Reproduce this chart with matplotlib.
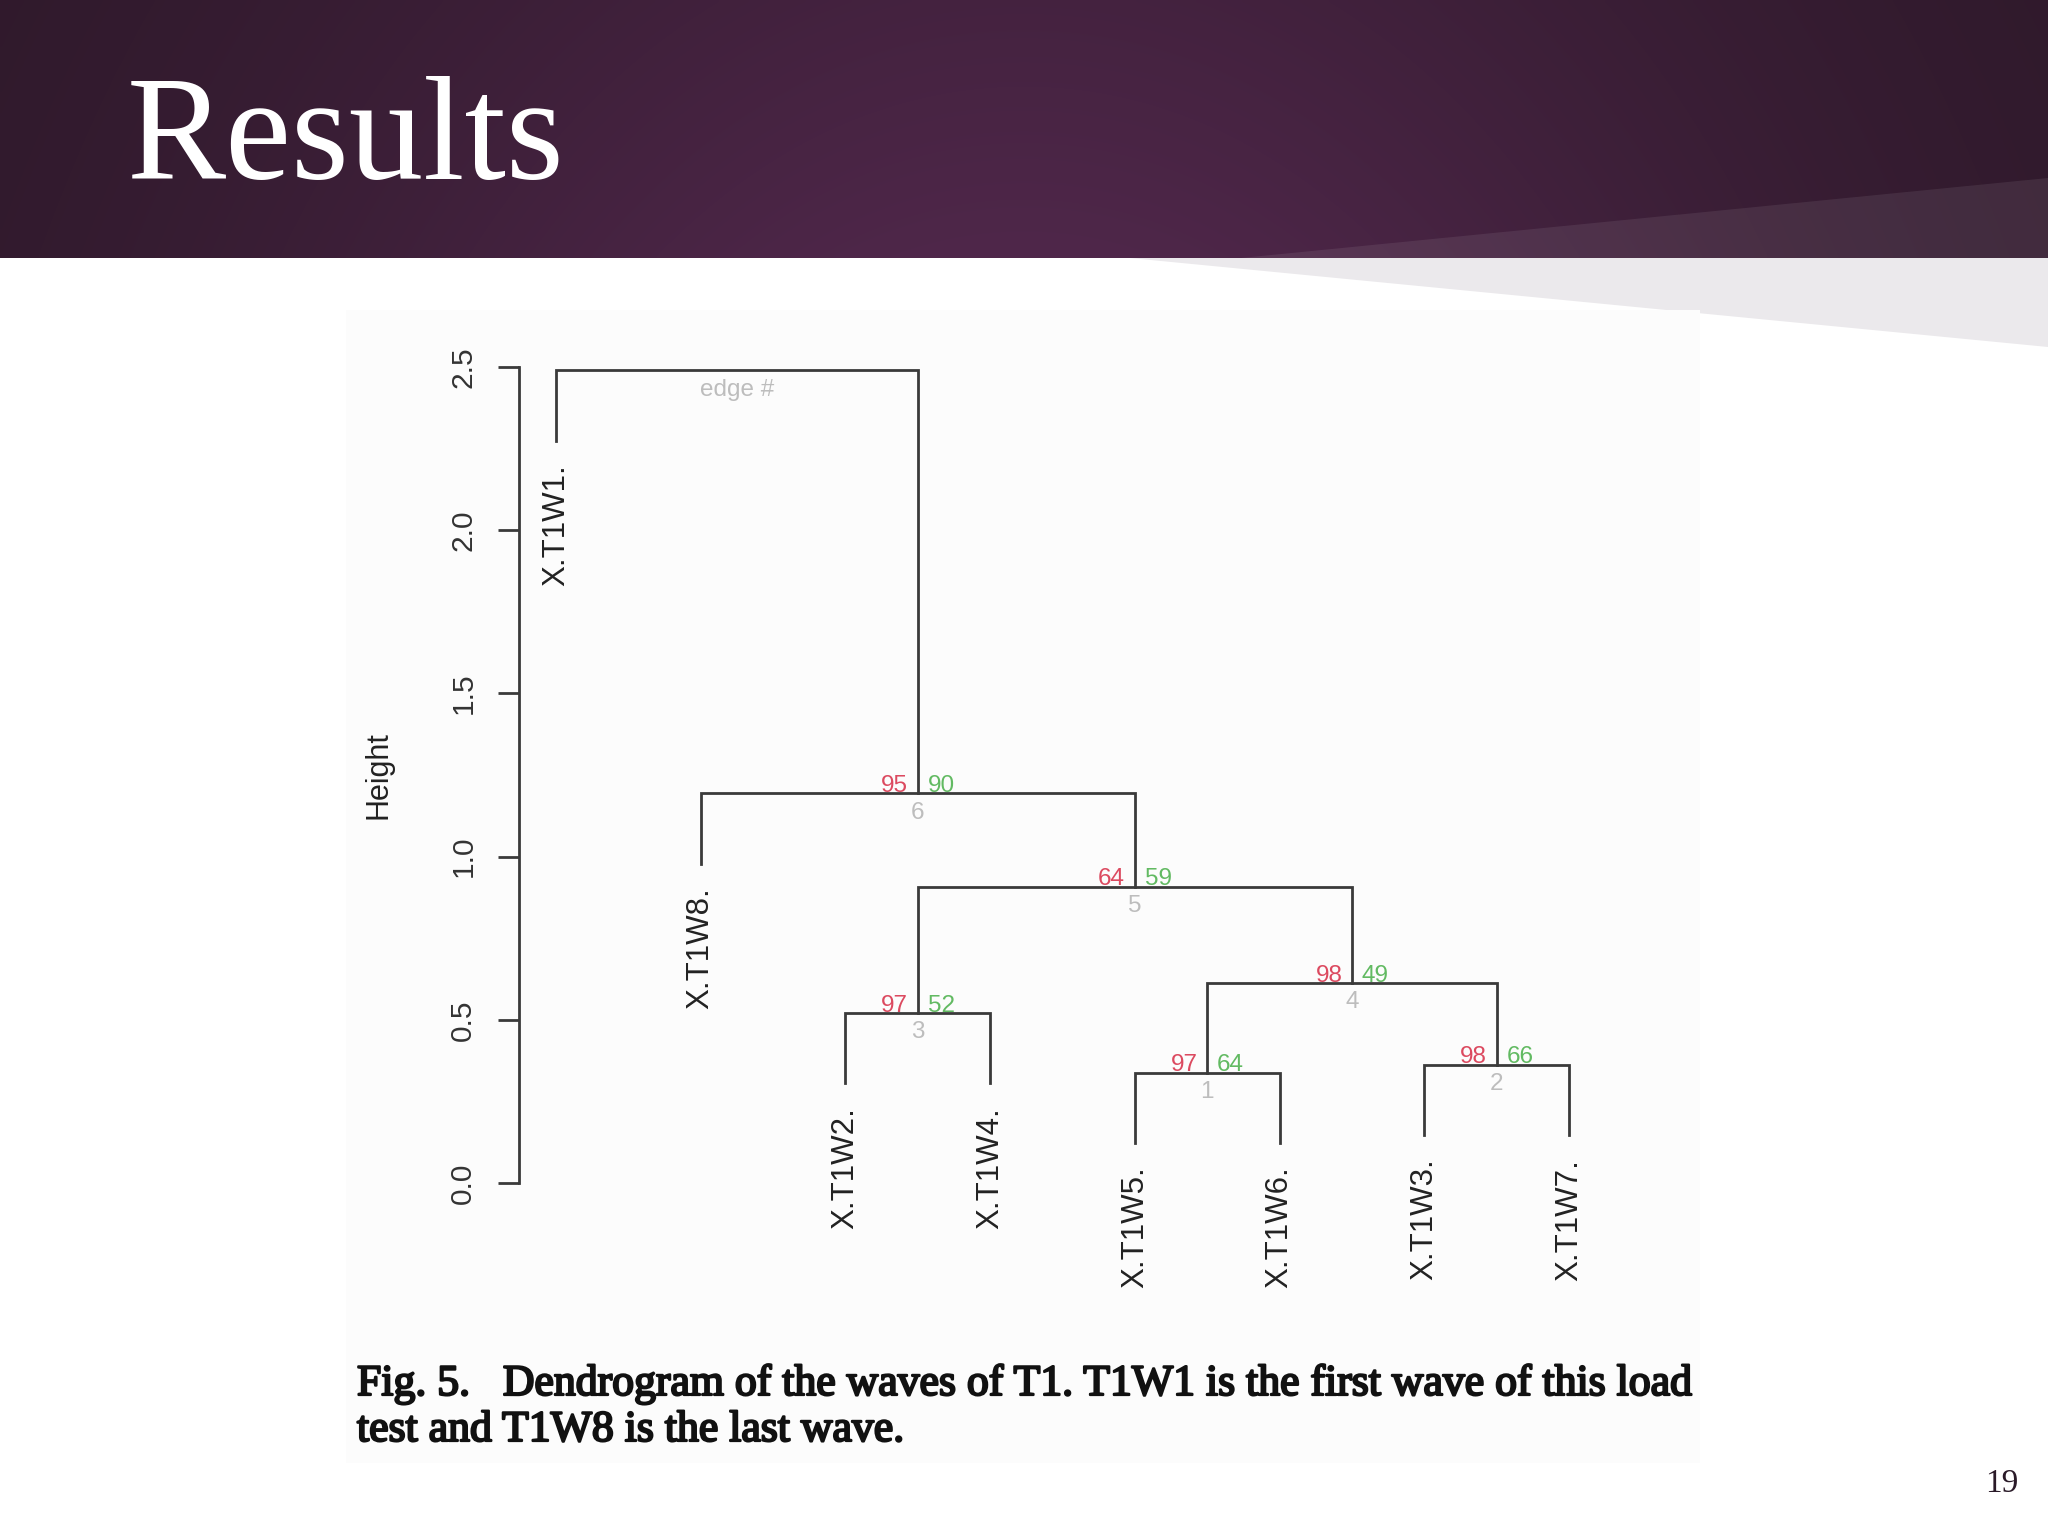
import matplotlib
matplotlib.use("Agg")
import matplotlib.pyplot as plt
import matplotlib.patheffects as pe
import numpy as np
from matplotlib.patches import Polygon, Rectangle

# Dendrogramme (format hclust de R : feuilles négatives, clusters positifs)
labels = ["X.T1W1.", "X.T1W2.", "X.T1W3.", "X.T1W4.",
          "X.T1W5.", "X.T1W6.", "X.T1W7.", "X.T1W8."]
order = [1, 8, 2, 4, 5, 6, 3, 7]
merge = [(-5, -6), (-3, -7), (-2, -4), (1, 2), (3, 4), (-8, 5), (-1, 6)]
heights = [0.338, 0.362, 0.521, 0.613, 0.908, 1.194, 2.49]
au = [97, 98, 97, 98, 64, 95]
bp = [64, 66, 52, 49, 59, 90]
yticks = [0.0, 0.5, 1.0, 1.5, 2.0, 2.5]

title = "Results"
caption = ["Fig. 5.   Dendrogram of the waves of T1. T1W1 is the first wave of this load",
           "test and T1W8 is the last wave."]
page = "19"

LINE = "#3a3a3a"
RED = "#dc4a60"
GREEN = "#62ba62"
GREY = "#bdbdbd"
SANS = "Liberation Sans"
SERIF = "Liberation Serif"

fig = plt.figure(figsize=(20.48, 15.36), dpi=100)

# --- fond de la diapo (coordonnées pixels) ---
bg = fig.add_axes([0, 0, 1, 1])
xx, yy = np.meshgrid(np.linspace(0, 1, 512), np.linspace(0, 1, 64))
t = np.exp(-((xx - 0.5) / 0.38) ** 2) * (0.7 + 0.3 * yy)
dark = np.array([0x2c, 0x18, 0x28]) / 255
light = np.array([0x4f, 0x27, 0x4a]) / 255
bg.imshow(dark + (light - dark) * t[..., None], extent=(0, 2048, 258, 0),
          aspect="auto", interpolation="bilinear")
bg.add_patch(Polygon([(1241, 258), (2048, 178), (2048, 258)], closed=True,
                     facecolor="white", alpha=0.08, lw=0))
bg.add_patch(Polygon([(1130, 258), (2048, 258), (2048, 347)], closed=True,
                     facecolor="#ebe9ec", lw=0))
bg.add_patch(Rectangle((346, 310), 1700 - 346, 1463 - 310, facecolor="#fcfcfc", lw=0))
bg.set_xlim(0, 2048)
bg.set_ylim(1536, 0)
bg.axis("off")

bg.text(127, 179, title, color="white", fontsize=107, family=SERIF, va="baseline")
stroke = [pe.withStroke(linewidth=1.6, foreground="#111111")]
for i, line in enumerate(caption):
    bg.text(357, 1395 + 46 * i, line, fontsize=31.5, family=SERIF, color="#111111",
            va="baseline", path_effects=stroke)
bg.text(2018, 1492, page, ha="right", va="baseline", fontsize=24, family=SERIF,
        color="#2a1a28")

# --- dendrogramme ---
ax = fig.add_axes([519 / 2048, 353 / 1536, (1620 - 519) / 2048, 816 / 1536])
ax.patch.set_alpha(0)
ax.set_xlim(0.744, 8.352)
ax.set_ylim(0, 2.5)

pos = {leaf: i + 1 for i, leaf in enumerate(order)}
hang = 0.1 * (max(heights) - min(heights))
node_x = {}
for k, (a, b) in enumerate(merge, start=1):
    h = heights[k - 1]
    xs, ys = [], []
    for c in (a, b):
        if c < 0:
            x, y0 = pos[-c], h - hang
            ax.annotate(labels[-c - 1], xy=(x, y0), xytext=(0, -17),
                        textcoords="offset points", rotation=90,
                        rotation_mode="anchor", ha="right", va="center",
                        fontsize=22.5, family=SANS, color="#222222",
                        annotation_clip=False)
        else:
            x, y0 = node_x[c], heights[c - 1]
        xs.append(x)
        ys.append(y0)
    ax.plot([xs[0], xs[0], xs[1], xs[1]], [ys[0], h, h, ys[1]],
            color=LINE, lw=2.0, solid_joinstyle="miter", clip_on=False)
    node_x[k] = (xs[0] + xs[1]) / 2

for k in range(1, len(au) + 1):
    x, h = node_x[k], heights[k - 1]
    ax.annotate(str(au[k - 1]), xy=(x, h), xytext=(-7, 1), textcoords="offset points",
                ha="right", va="baseline", fontsize=17.5, family=SANS, color=RED)
    ax.annotate(str(bp[k - 1]), xy=(x, h), xytext=(7, 1), textcoords="offset points",
                ha="left", va="baseline", fontsize=17.5, family=SANS, color=GREEN)
    ax.annotate(str(k), xy=(x, h), xytext=(0, -6), textcoords="offset points",
                ha="center", va="top", fontsize=17.5, family=SANS, color=GREY)
ax.annotate("edge #", xy=(node_x[len(merge)], heights[-1]), xytext=(0, -6),
            textcoords="offset points", ha="center", va="top", fontsize=17.5,
            family=SANS, color=GREY)

for s in ("top", "right", "bottom"):
    ax.spines[s].set_visible(False)
ax.spines["left"].set_color(LINE)
ax.spines["left"].set_linewidth(2.0)
ax.spines["left"].set_bounds(yticks[0], yticks[-1])
ax.set_xticks([])
ax.set_yticks(yticks)
ax.set_yticklabels([f"{v:.1f}" for v in yticks], family=SANS, fontsize=21.5,
                   color="#333333", rotation=90, va="center")
ax.tick_params(axis="y", length=15, width=2.0, color=LINE, pad=15)
ax.set_ylabel("Height", family=SANS, fontsize=22, color="#222222", labelpad=40)

fig.savefig("out.png", dpi=100)
